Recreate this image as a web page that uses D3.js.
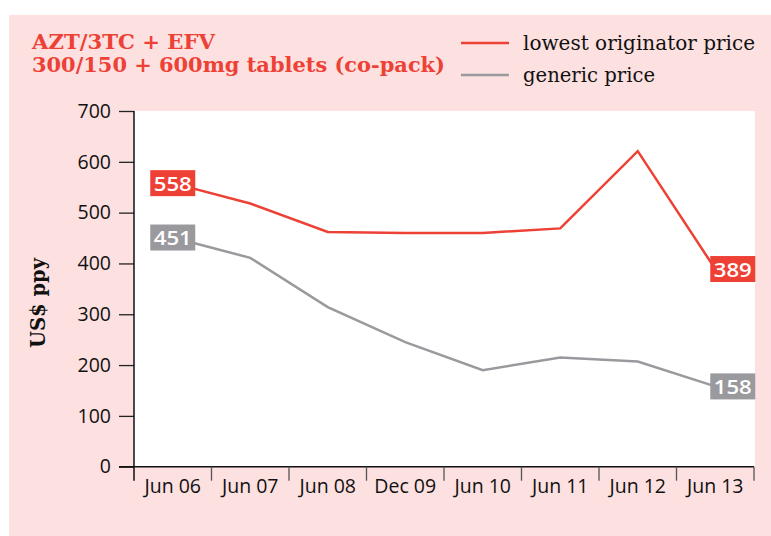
<!DOCTYPE html>
<html>
<head>
<meta charset="utf-8">
<script src="https://cdn.jsdelivr.net/npm/d3@7"></script>
<style>
  body { margin: 0; background: #fff; }
</style>
</head>
<body>
<div id="chart-area"></div>
<script>
// data
const periods = ["Jun 06", "Jun 07", "Jun 08", "Dec 09", "Jun 10", "Jun 11", "Jun 12", "Jun 13"];
const originatorPrice = [558, 518, 462, 460, 460, 469, 621, 389];
const genericPrice = [451, 411, 314, 245, 190, 215, 207, 158];
const yTicks = [0, 100, 200, 300, 400, 500, 600, 700];
const titleLines = ["AZT/3TC + EFV", "300/150 + 600mg tablets (co-pack)"];
const legendNames = ["lowest originator price", "generic price"];

const RED = "#ee4136";
const GREY = "#9a9a9e";
const PINK = "#fde0e0";

const svg = d3.select("#chart-area")
    .append("svg")
        .attr("width", 771)
        .attr("height", 536);

// background panel
svg.append("rect")
    .attr("x", 9).attr("y", 15)
    .attr("width", 762).attr("height", 521)
    .attr("fill", PINK);

const plotLeft = 134, plotRight = 754, plotTop = 111, plotBottom = 466.7;

const x = d3.scaleBand()
    .domain(periods)
    .range([plotLeft, plotRight])
    .padding(0);

const y = d3.scaleLinear()
    .domain([0, 700])
    .range([plotBottom, plotTop]);

// white plot area
svg.append("rect")
    .attr("x", plotLeft).attr("y", plotTop)
    .attr("width", plotRight - plotLeft + 1).attr("height", plotBottom - plotTop)
    .attr("fill", "#fff");

// title
const titleWidths = [183, 413];
titleLines.forEach((t, i) => {
    svg.append("text")
        .attr("x", 32)
        .attr("y", 48.5 + i * 23)
        .attr("font-family", "'DejaVu Serif Condensed', 'DejaVu Serif'")
        .attr("font-stretch", "condensed")
        .attr("font-weight", "bold")
        .attr("font-size", 20.5)
        .attr("fill", RED)
        .attr("textLength", titleWidths[i])
        .attr("lengthAdjust", "spacingAndGlyphs")
        .text(t);
});

// legend
const legendColors = [RED, GREY];
const legendWidths = [232, 132];
legendNames.forEach((name, i) => {
    const ly = 43 + i * 32;
    svg.append("line")
        .attr("x1", 461).attr("x2", 509)
        .attr("y1", ly).attr("y2", ly)
        .attr("stroke", legendColors[i])
        .attr("stroke-width", 2.5);
    svg.append("text")
        .attr("x", 523)
        .attr("y", ly + 7)
        .attr("font-family", "DejaVu Serif")
        .attr("font-size", 19.5)
        .attr("fill", "#111")
        .attr("textLength", legendWidths[i])
        .attr("lengthAdjust", "spacingAndGlyphs")
        .text(name);
});

// y axis
const yAxis = svg.append("g")
    .attr("transform", `translate(${plotLeft},0)`)
    .call(d3.axisLeft(y).tickValues(yTicks).tickSize(15).tickPadding(8));
yAxis.select(".domain").remove();
yAxis.selectAll(".tick line").attr("stroke", "#222").attr("stroke-width", 1.3);
yAxis.selectAll("text")
    .attr("font-family", "Open Sans")
    .attr("font-size", 19.5)
    .attr("fill", "#111");

svg.append("line")
    .attr("x1", plotLeft).attr("x2", plotLeft)
    .attr("y1", plotTop).attr("y2", plotBottom + 14)
    .attr("stroke", "#111").attr("stroke-width", 1.5);

// x axis
const xAxis = svg.append("g")
    .attr("transform", `translate(0,${plotBottom})`)
    .call(d3.axisBottom(x).tickSize(0).tickPadding(12));
xAxis.select(".domain").remove();
xAxis.selectAll("text")
    .attr("font-family", "Open Sans")
    .attr("font-size", 19.5)
    .attr("fill", "#111");

svg.append("line")
    .attr("x1", plotLeft - 15).attr("x2", plotRight)
    .attr("y1", plotBottom).attr("y2", plotBottom)
    .attr("stroke", "#111").attr("stroke-width", 1.5);

const boundaries = periods.slice(1).map(p => x(p)).concat([x(periods[periods.length - 1]) + x.bandwidth()]);
svg.selectAll(".xtick")
    .data(boundaries)
    .enter()
    .append("line")
        .attr("class", "xtick")
        .attr("x1", d => d).attr("x2", d => d)
        .attr("y1", plotBottom).attr("y2", plotBottom + 14)
        .attr("stroke", "#555")
        .attr("stroke-width", 1.3);

// y axis title
svg.append("text")
    .attr("transform", "translate(45,303) rotate(-90)")
    .attr("text-anchor", "middle")
    .attr("font-family", "'DejaVu Serif Condensed', 'DejaVu Serif'")
    .attr("font-stretch", "condensed")
    .attr("font-weight", "bold")
    .attr("font-size", 20)
    .attr("fill", "#111")
    .attr("textLength", 90)
    .attr("lengthAdjust", "spacingAndGlyphs")
    .text("US$ ppy");

// lines
const line = d3.line()
    .x((d, i) => x(periods[i]) + x.bandwidth() / 2)
    .y(d => y(d));

const series = [
    { values: originatorPrice, color: RED },
    { values: genericPrice, color: GREY }
];

series.forEach((s) => {
    svg.append("path")
        .datum(s.values)
        .attr("fill", "none")
        .attr("stroke", s.color)
        .attr("stroke-width", 2.5)
        .attr("stroke-linejoin", "miter")
        .attr("d", line);
});

// value labels at both ends
const boxW = 45, boxH = 26;
series.forEach((s) => {
    const ends = [
        { i: 0, dx: -boxW / 2 },
        { i: s.values.length - 1, dx: -5 }
    ];
    ends.forEach((e) => {
        const px = x(periods[e.i]) + x.bandwidth() / 2;
        const py = y(s.values[e.i]);
        svg.append("rect")
            .attr("x", px + e.dx)
            .attr("y", py - boxH / 2)
            .attr("width", boxW)
            .attr("height", boxH)
            .attr("fill", s.color);
        svg.append("text")
            .attr("x", px + e.dx + boxW / 2)
            .attr("y", py + 7.5)
            .attr("text-anchor", "middle")
            .attr("font-family", "Open Sans")
            .attr("font-weight", 600)
            .attr("font-size", 20.5)
            .attr("fill", "#fff")
            .attr("textLength", 38)
            .attr("lengthAdjust", "spacingAndGlyphs")
            .text(s.values[e.i]);
    });
});
</script>
</body>
</html>
